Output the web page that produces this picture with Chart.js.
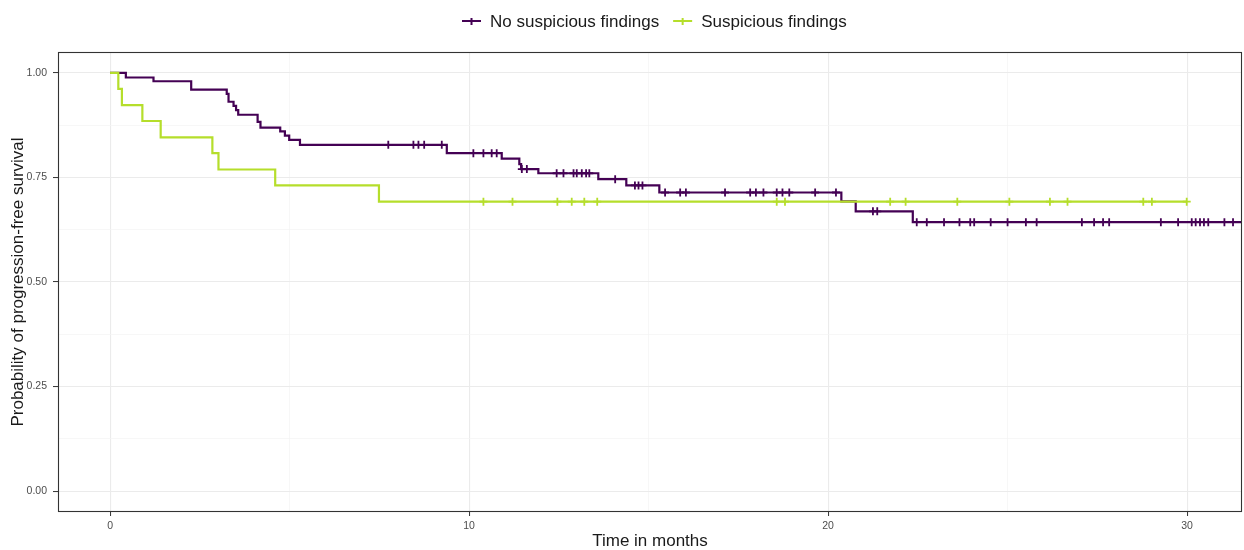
<!DOCTYPE html>
<html>
<head>
<meta charset="utf-8">
<title>Progression-free survival</title>
<script src="https://cdn.jsdelivr.net/npm/chart.js@4.4.1/dist/chart.umd.min.js"></script>
<style>
  html, body { margin: 0; padding: 0; background: #ffffff; }
  #wrap { width: 1244px; height: 550px; }
</style>
</head>
<body>
<div id="wrap"><canvas id="km" width="1244" height="550"></canvas></div>
<script>
// Kaplan-Meier estimates: event times (months) with survival after each drop,
// plus the times of censored observations (drawn as "+" marks).
const groupNames = ['No suspicious findings', 'Suspicious findings'];
const groupColors = ['#440154', '#B5DE2B'];

const noFindEventTimes = [0, 0.44, 1.21, 2.26, 3.25, 3.30, 3.44, 3.51, 3.57, 4.11, 4.19, 4.74, 4.87, 4.99, 5.29,
  9.38, 10.91, 11.40, 11.45, 11.93, 13.60, 14.38, 15.30, 20.37, 20.77, 22.36];
const noFindSurvival = [1.000, 0.989, 0.980, 0.960, 0.950, 0.931, 0.921, 0.911, 0.900, 0.883, 0.869, 0.860, 0.850, 0.840, 0.828,
  0.808, 0.795, 0.782, 0.770, 0.760, 0.746, 0.731, 0.714, 0.693, 0.669, 0.643];
const noFindCensorTimes = [7.75, 8.45, 8.59, 8.75, 9.24, 10.12, 10.40, 10.63, 10.77, 11.47, 11.61,
  12.44, 12.63, 12.91, 13.00, 13.14, 13.26, 13.35, 14.07, 14.62, 14.72, 14.83,
  15.46, 15.88, 16.04, 17.13, 17.83, 17.99, 18.20, 18.57, 18.73, 18.92, 19.64, 20.22,
  21.25, 21.37, 22.47, 22.75, 23.23, 23.66, 23.96, 24.07, 24.53, 25.00, 25.51, 25.81,
  27.07, 27.41, 27.66, 27.83, 29.27, 29.75, 30.13, 30.24, 30.36, 30.47, 30.59, 31.04, 31.28];
const noFindLastTime = 31.6;

const suspEventTimes = [0, 0.23, 0.33, 0.90, 1.41, 2.85, 3.02, 4.60, 7.49];
const suspSurvival = [1.000, 0.962, 0.923, 0.885, 0.846, 0.808, 0.769, 0.731, 0.692];
const suspCensorTimes = [10.40, 11.21, 12.46, 12.86, 13.21, 13.57, 18.57, 18.80, 21.73, 22.16,
  23.60, 25.05, 26.18, 26.67, 28.78, 29.02, 29.99];

// Axis ticks
const xMajorTicks = [0, 10, 20, 30];
const xMinorTicks = [5, 15, 25];
const yMajorTicks = [0, 0.25, 0.5, 0.75, 1.0];
const yMinorTicks = [0.125, 0.375, 0.625, 0.875];

const FONT = '"Liberation Sans", Arial, Helvetica, sans-serif';

// Merge event steps and censor marks into one time-ordered point list.
function buildCurve(eventTimes, survival, censorTimes, lastTime) {
  const pts = eventTimes.map((t, i) => ({ x: t, y: survival[i], c: false }));
  censorTimes.forEach(t => {
    let s = survival[0];
    eventTimes.forEach((et, i) => { if (et <= t) s = survival[i]; });
    pts.push({ x: t, y: s, c: true });
  });
  if (lastTime !== undefined) {
    pts.push({ x: lastTime, y: survival[survival.length - 1], c: false });
  }
  return pts.sort((a, b) => a.x - b.x);
}

const curves = [
  buildCurve(noFindEventTimes, noFindSurvival, noFindCensorTimes, noFindLastTime),
  buildCurve(suspEventTimes, suspSurvival, suspCensorTimes)
];

const datasets = curves.map((pts, i) => ({
  label: groupNames[i],
  data: pts,
  stepped: true,
  borderColor: groupColors[i],
  backgroundColor: groupColors[i],
  borderWidth: 2.2,
  fill: false,
  pointStyle: 'cross',
  pointRadius: ctx => (ctx.raw && ctx.raw.c ? 4 : 0),
  pointHoverRadius: ctx => (ctx.raw && ctx.raw.c ? 4 : 0),
  pointBorderWidth: 1.8,
  pointBorderColor: groupColors[i],
  order: i === 0 ? 2 : 1
}));

const isIn = (arr, v) => arr.some(a => Math.abs(a - v) < 1e-9);

// Frame around the panel
const panelFrame = {
  id: 'panelFrame',
  afterDatasetsDraw(chart) {
    const { ctx, chartArea: a } = chart;
    ctx.save();
    ctx.strokeStyle = '#333333';
    ctx.lineWidth = 1.1;
    ctx.strokeRect(a.left + 0.5, a.top + 0.5, a.right - a.left - 1, a.bottom - a.top - 1);
    ctx.restore();
  }
};

// Legend on top: line with "+" symbol, then the group name
const keyLegend = {
  id: 'keyLegend',
  afterDraw(chart) {
    const { ctx } = chart;
    ctx.save();
    ctx.font = '17px ' + FONT;
    ctx.textBaseline = 'middle';
    const y = 21;
    let x = 462;
    groupNames.forEach((name, i) => {
      ctx.strokeStyle = groupColors[i];
      ctx.lineWidth = 2;
      ctx.beginPath();
      ctx.moveTo(x, y); ctx.lineTo(x + 19, y);
      ctx.moveTo(x + 9.5, y - 3); ctx.lineTo(x + 9.5, y + 4);
      ctx.stroke();
      ctx.fillStyle = '#1a1a1a';
      ctx.fillText(name, x + 28, y + 1);
      x += 28 + ctx.measureText(name).width + 14;
    });
    ctx.restore();
  }
};

new Chart(document.getElementById('km'), {
  type: 'line',
  data: { datasets },
  plugins: [panelFrame, keyLegend],
  options: {
    responsive: false,
    animation: false,
    parsing: true,
    layout: { autoPadding: false, padding: { top: 52, right: 2, left: 0, bottom: 0 } },
    plugins: {
      legend: { display: false },
      tooltip: { enabled: false }
    },
    scales: {
      x: {
        type: 'linear',
        min: -1.45,
        max: 31.53,
        afterBuildTicks(scale) {
          scale.ticks = [...xMajorTicks, ...xMinorTicks].sort((a, b) => a - b).map(v => ({ value: v }));
        },
        afterFit(scale) {
          scale.height = 38;
          scale.paddingLeft = 0;
          scale.paddingRight = 0;
        },
        grid: {
          color: ctx => isIn(xMajorTicks, ctx.tick.value) ? '#ebebeb' : '#f3f3f3',
          lineWidth: ctx => isIn(xMajorTicks, ctx.tick.value) ? 1.1 : 0.7,
          tickColor: ctx => isIn(xMajorTicks, ctx.tick.value) ? '#333333' : 'rgba(0,0,0,0)',
          tickLength: 4,
          tickWidth: 1
        },
        border: { display: false },
        ticks: {
          autoSkip: false,
          maxRotation: 0,
          padding: 4,
          color: '#4d4d4d',
          font: { family: FONT, size: 10.5 },
          callback: v => isIn(xMajorTicks, v) ? String(v) : ''
        },
        title: {
          display: true,
          text: 'Time in months',
          color: '#1a1a1a',
          font: { family: FONT, size: 17, lineHeight: 1.0 },
          padding: { top: 0, bottom: 0 }
        }
      },
      y: {
        type: 'linear',
        min: -0.05,
        max: 1.05,
        afterBuildTicks(scale) {
          scale.ticks = [...yMajorTicks, ...yMinorTicks].sort((a, b) => a - b).map(v => ({ value: v }));
        },
        afterFit(scale) { scale.width = 58; },
        grid: {
          color: ctx => isIn(yMajorTicks, ctx.tick.value) ? '#ebebeb' : '#f3f3f3',
          lineWidth: ctx => isIn(yMajorTicks, ctx.tick.value) ? 1.1 : 0.7,
          tickColor: ctx => isIn(yMajorTicks, ctx.tick.value) ? '#333333' : 'rgba(0,0,0,0)',
          tickLength: 5,
          tickWidth: 1
        },
        border: { display: false },
        ticks: {
          autoSkip: false,
          padding: 6,
          color: '#4d4d4d',
          font: { family: FONT, size: 10.5 },
          callback: v => isIn(yMajorTicks, v) ? Number(v).toFixed(2) : ''
        },
        title: {
          display: true,
          text: 'Probability of progression-free survival',
          color: '#1a1a1a',
          font: { family: FONT, size: 17, lineHeight: 1.2 },
          padding: { top: 8, bottom: 0 }
        }
      }
    }
  }
});
</script>
</body>
</html>
